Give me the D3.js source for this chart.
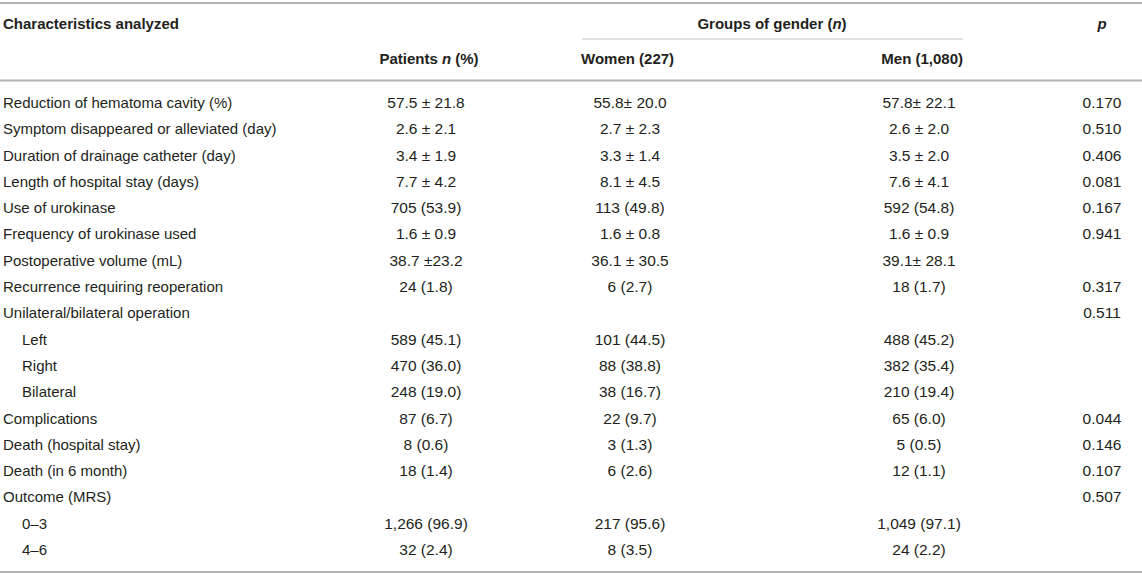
<!DOCTYPE html>
<html><head><meta charset="utf-8">
<script src="https://cdn.jsdelivr.net/npm/d3@7"></script>
<style>
html,body{margin:0;padding:0;background:#fff;}
svg text{font-family:"Liberation Sans",Arial,Helvetica,sans-serif;font-size:15px;fill:#231f20;}
svg text.num{font-size:15.5px;}
</style></head>
<body>
<svg id="c" width="1142" height="576"></svg>
<script>
const rowLabels = ["Reduction of hematoma cavity (%)","Symptom disappeared or alleviated (day)","Duration of drainage catheter (day)","Length of hospital stay (days)","Use of urokinase","Frequency of urokinase used","Postoperative volume (mL)","Recurrence requiring reoperation","Unilateral/bilateral operation","Left","Right","Bilateral","Complications","Death (hospital stay)","Death (in 6 month)","Outcome (MRS)","0–3","4–6"];
const indented = [false,false,false,false,false,false,false,false,false,true,true,true,false,false,false,false,true,true];
const patients = ["57.5 ± 21.8","2.6 ± 2.1","3.4 ± 1.9","7.7 ± 4.2","705 (53.9)","1.6 ± 0.9","38.7 ±23.2","24 (1.8)","","589 (45.1)","470 (36.0)","248 (19.0)","87 (6.7)","8 (0.6)","18 (1.4)","","1,266 (96.9)","32 (2.4)"];
const women = ["55.8± 20.0","2.7 ± 2.3","3.3 ± 1.4","8.1 ± 4.5","113 (49.8)","1.6 ± 0.8","36.1 ± 30.5","6 (2.7)","","101 (44.5)","88 (38.8)","38 (16.7)","22 (9.7)","3 (1.3)","6 (2.6)","","217 (95.6)","8 (3.5)"];
const men = ["57.8± 22.1","2.6 ± 2.0","3.5 ± 2.0","7.6 ± 4.1","592 (54.8)","1.6 ± 0.9","39.1± 28.1","18 (1.7)","","488 (45.2)","382 (35.4)","210 (19.4)","65 (6.0)","5 (0.5)","12 (1.1)","","1,049 (97.1)","24 (2.2)"];
const pValues = ["0.170","0.510","0.406","0.081","0.167","0.941","","0.317","0.511","","","","0.044","0.146","0.107","0.507","",""];
const columns = ["label","patients","women","men","p"];

const svg = d3.select("#c");
const W = 1142, H = 576;

const y = d3.scaleBand().domain(d3.range(rowLabels.length)).range([89.8, 563.2]).paddingInner(0);
const x = d3.scaleOrdinal().domain(columns).range([3, 426, 630, 919, 1102]);

// rules
const rule = (yy, x1, x2, w, col) => svg.append("line").attr("x1",x1).attr("x2",x2).attr("y1",yy).attr("y2",yy).attr("stroke",col).attr("stroke-width",w);
rule(3, 0, W, 2, "#b4b4b4");
rule(39, 582, 963, 1, "#c4c4c4");
rule(80.5, 0, W, 2, "#b4b4b4");
rule(572, 0, W, 2, "#b4b4b4");

// headers
const h1 = 29, h2 = 64;
svg.append("text").attr("x",3).attr("y",h1).attr("font-weight","bold").text("Characteristics analyzed");
const g = svg.append("text").attr("x",772).attr("y",h1).attr("text-anchor","middle").attr("font-weight","bold");
g.append("tspan").text("Groups of gender (");
g.append("tspan").attr("font-style","italic").text("n");
g.append("tspan").text(")");
svg.append("text").attr("x",x("p")).attr("y",h1).attr("text-anchor","middle").attr("font-weight","bold").attr("font-style","italic").text("p");
const pt = svg.append("text").attr("x",429).attr("y",h2).attr("text-anchor","middle").attr("font-weight","bold");
pt.append("tspan").text("Patients ");
pt.append("tspan").attr("font-style","italic").text("n");
pt.append("tspan").text(" (%)");
svg.append("text").attr("x",581).attr("y",h2).attr("font-weight","bold").text("Women (227)");
svg.append("text").attr("x",963).attr("y",h2).attr("text-anchor","end").attr("font-weight","bold").text("Men (1,080)");

// body
const rows = svg.append("g").selectAll("g").data(rowLabels.map((d,i)=>({i,label:d,patients:patients[i],women:women[i],men:men[i],p:pValues[i]})))
  .join("g").attr("transform", d => `translate(0,${y(d.i) + y.bandwidth()*0.5 + 5})`);
rows.append("text").attr("x", d => x("label") + (indented[d.i] ? 19 : 0)).text(d => d.label);
["patients","women","men","p"].forEach(c => {
  rows.append("text").attr("class","num").attr("x", x(c)).attr("text-anchor","middle").text(d => d[c]);
});
</script>
</body></html>
